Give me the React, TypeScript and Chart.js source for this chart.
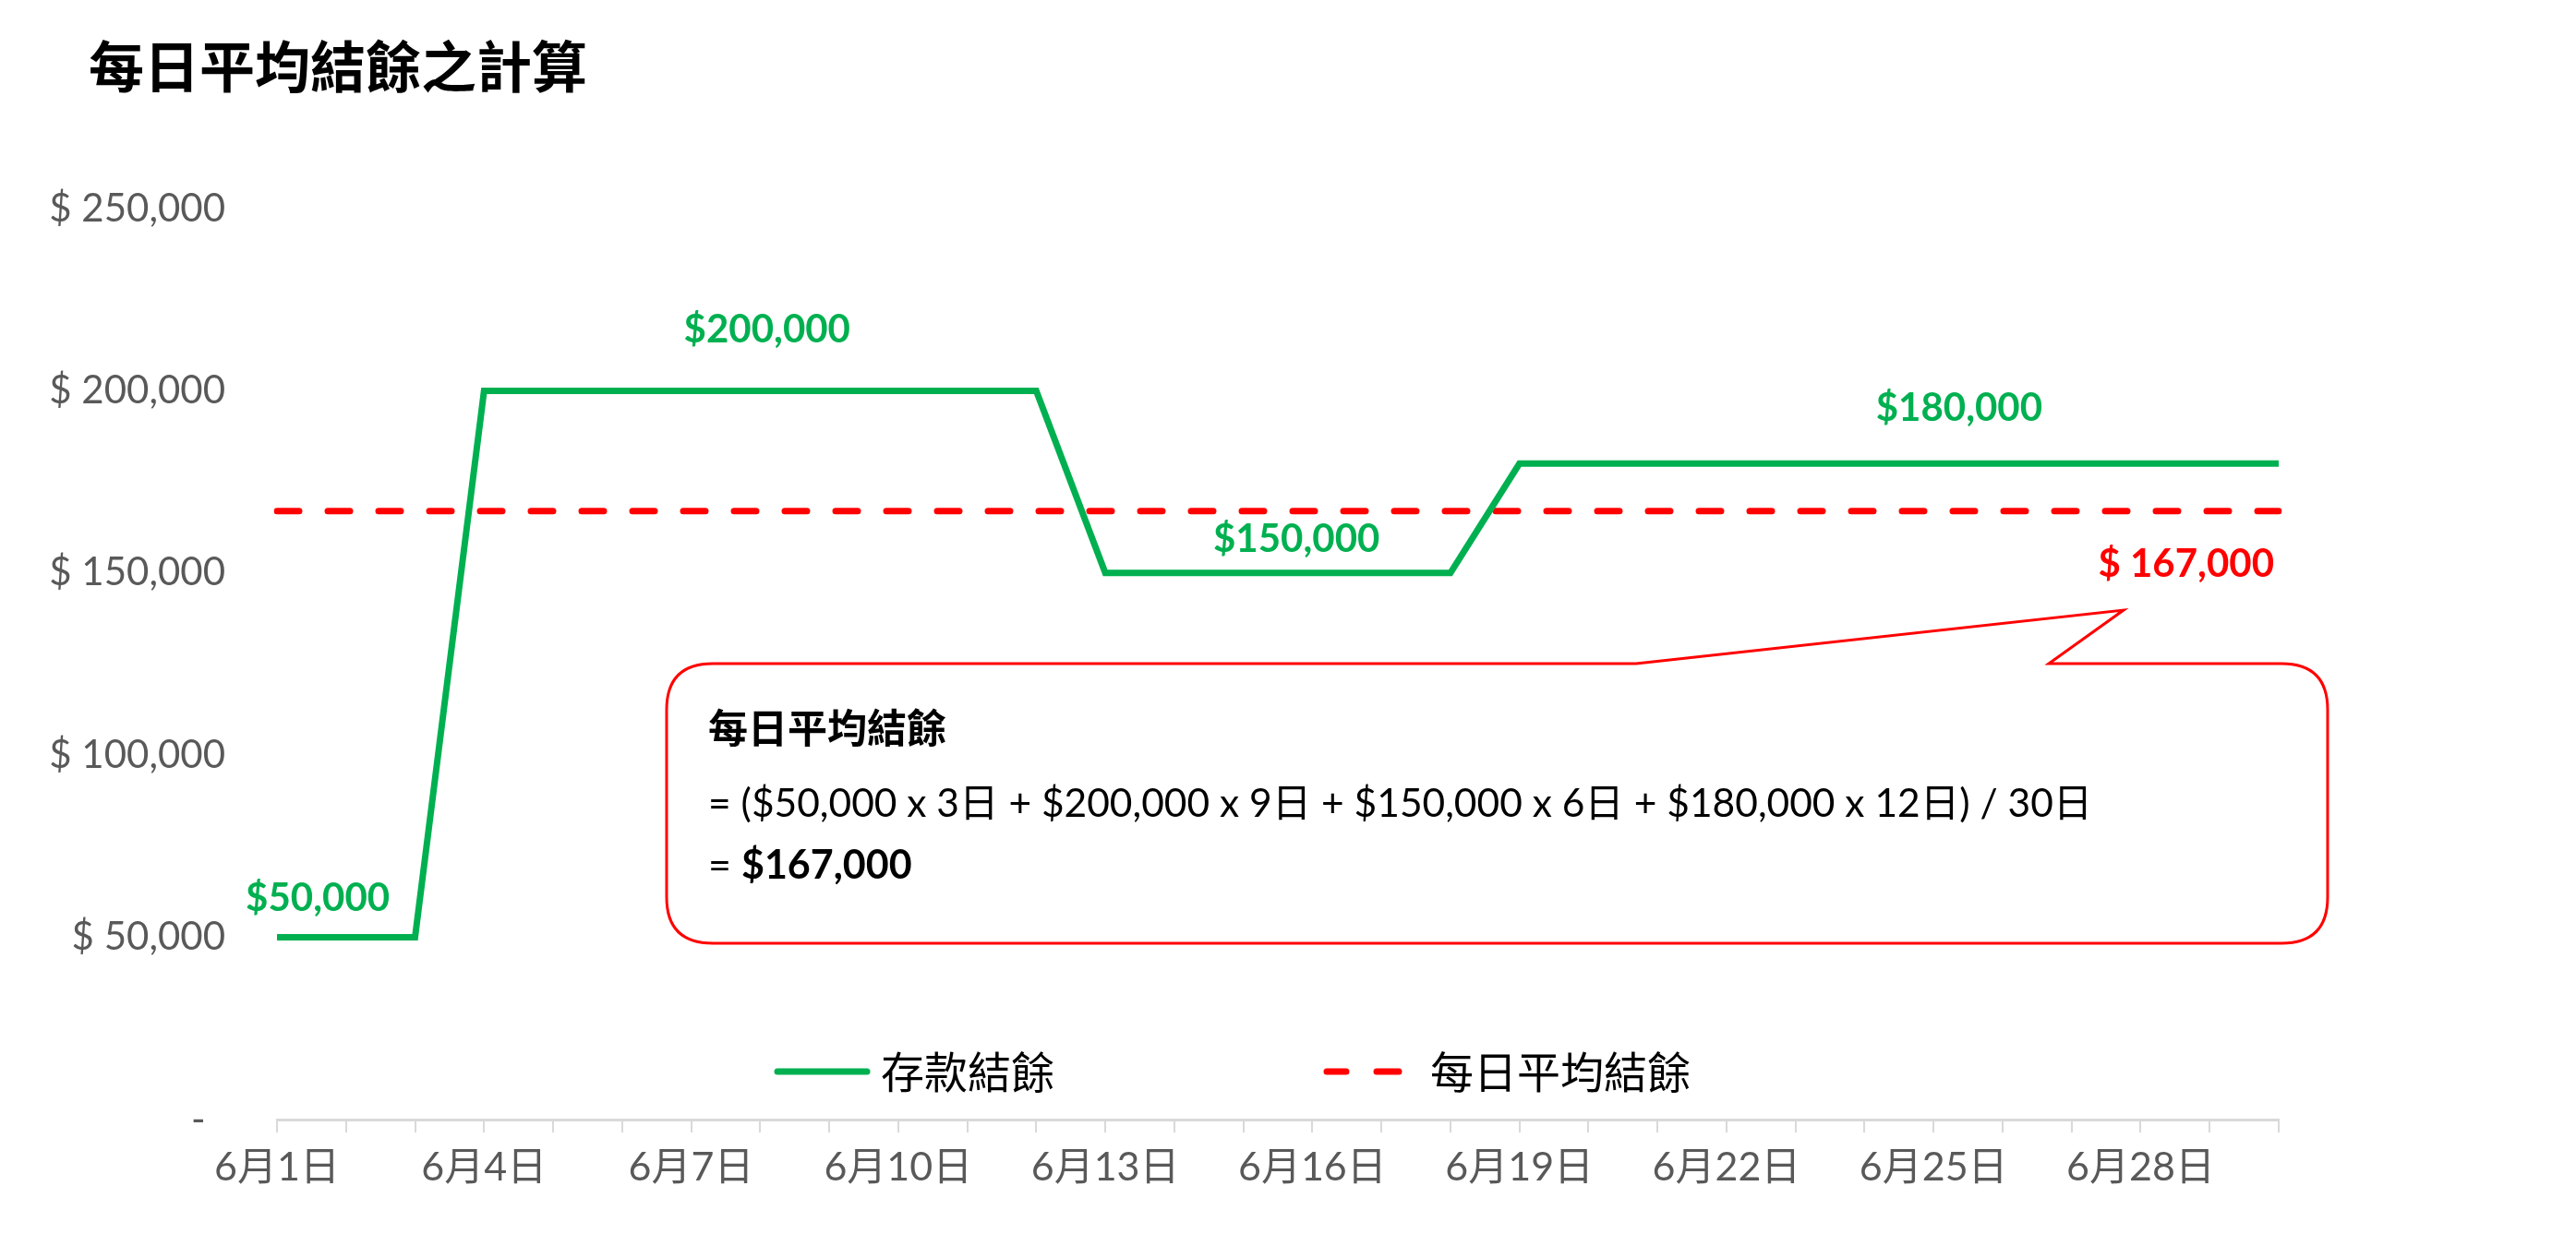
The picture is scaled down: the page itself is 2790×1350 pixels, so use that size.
import React, { useEffect, useRef } from 'react';
import { Chart, registerables } from 'chart.js';

Chart.register(...registerables);

const chartTitle = '每日平均結餘之計算';

const categories = [
  '6月1日', '6月2日', '6月3日', '6月4日', '6月5日', '6月6日', '6月7日', '6月8日', '6月9日', '6月10日',
  '6月11日', '6月12日', '6月13日', '6月14日', '6月15日', '6月16日', '6月17日', '6月18日', '6月19日', '6月20日',
  '6月21日', '6月22日', '6月23日', '6月24日', '6月25日', '6月26日', '6月27日', '6月28日', '6月29日', '6月30日',
];

const xTickLabels = ['6月1日', '6月4日', '6月7日', '6月10日', '6月13日', '6月16日', '6月19日', '6月22日', '6月25日', '6月28日'];

const balanceLabel = '存款結餘';
const balanceValues = [
  50000, 50000, 50000,
  200000, 200000, 200000, 200000, 200000, 200000, 200000, 200000, 200000,
  150000, 150000, 150000, 150000, 150000, 150000,
  180000, 180000, 180000, 180000, 180000, 180000, 180000, 180000, 180000, 180000, 180000, 180000,
];

const averageLabel = '每日平均結餘';
const averageValues = [
  167000, 167000, 167000, 167000, 167000, 167000, 167000, 167000, 167000, 167000,
  167000, 167000, 167000, 167000, 167000, 167000, 167000, 167000, 167000, 167000,
  167000, 167000, 167000, 167000, 167000, 167000, 167000, 167000, 167000, 167000,
];

const yTicks = [0, 50000, 100000, 150000, 200000, 250000];

const segmentLabels = ['$50,000', '$200,000', '$150,000', '$180,000'];
const averageText = '$ 167,000';

const calloutTitle = '每日平均結餘';
const calloutFormula = '= ($50,000 x 3日 + $200,000 x 9日 + $150,000 x 6日 + $180,000 x 12日) / 30日';
const calloutResultPrefix = '= ';
const calloutResult = '$167,000';

const GREEN = '#00B050';
const RED = '#FF0000';
const GRAY = '#595959';
const LATIN = 'Lato, "Noto Sans CJK TC", sans-serif';
const CJK = '"Noto Sans CJK TC", sans-serif';

function withCommas(v: number): string {
  const s = String(Math.round(v));
  return s.replace(/\B(?=(\d{3})+(?!\d))/g, ',');
}

const overlayPlugin = {
  id: 'overlay',
  afterDraw(chart: any) {
    const { ctx, scales } = chart;
    const x = scales.x;
    const y = scales.y;
    ctx.save();

    // Title
    ctx.fillStyle = '#000000';
    ctx.textAlign = 'left';
    ctx.textBaseline = 'middle';
    ctx.font = `bold 60px ${CJK}`;
    ctx.fillText(chartTitle, 96, 72);

    // Segment data labels
    const anchors = [
      { text: segmentLabels[0], idx: 0.59, value: balanceValues[0], dy: -42 },
      { text: segmentLabels[1], idx: 7.1, value: balanceValues[7], dy: -66 },
      { text: segmentLabels[2], idx: 14.77, value: balanceValues[14], dy: -36 },
      { text: segmentLabels[3], idx: 24.37, value: balanceValues[24], dy: -60 },
    ];
    ctx.font = `bold 42px ${LATIN}`;
    ctx.fillStyle = GREEN;
    ctx.textAlign = 'center';
    for (const a of anchors) {
      ctx.fillText(a.text, x.getPixelForValue(a.idx), y.getPixelForValue(a.value) + a.dy);
    }

    // Average label
    ctx.fillStyle = RED;
    ctx.textAlign = 'right';
    ctx.fillText(averageText, x.getPixelForValue(averageValues.length - 1) - 5, y.getPixelForValue(averageValues[averageValues.length - 1]) + 58);

    // Legend
    const ly = 1161;
    ctx.lineCap = 'round';
    ctx.lineWidth = 7;
    ctx.strokeStyle = GREEN;
    ctx.beginPath();
    ctx.moveTo(842, ly);
    ctx.lineTo(939, ly);
    ctx.stroke();
    ctx.strokeStyle = RED;
    ctx.beginPath();
    ctx.moveTo(1437, ly);
    ctx.lineTo(1458, ly);
    ctx.moveTo(1491, ly);
    ctx.lineTo(1515, ly);
    ctx.stroke();
    ctx.fillStyle = '#000000';
    ctx.textAlign = 'left';
    ctx.font = `47px ${CJK}`;
    ctx.fillText(balanceLabel, 954, ly);
    ctx.fillText(averageLabel, 1549, ly);

    // Callout box
    const L = 722, T = 719, R = 2521, B = 1022, r = 50;
    ctx.lineCap = 'butt';
    ctx.lineJoin = 'miter';
    ctx.beginPath();
    ctx.moveTo(L + r, T);
    ctx.lineTo(1772, T);
    ctx.lineTo(2300, 661);
    ctx.lineTo(2219, T);
    ctx.lineTo(R - r, T);
    ctx.quadraticCurveTo(R, T, R, T + r);
    ctx.lineTo(R, B - r);
    ctx.quadraticCurveTo(R, B, R - r, B);
    ctx.lineTo(L + r, B);
    ctx.quadraticCurveTo(L, B, L, B - r);
    ctx.lineTo(L, T + r);
    ctx.quadraticCurveTo(L, T, L + r, T);
    ctx.closePath();
    ctx.fillStyle = '#FFFFFF';
    ctx.fill();
    ctx.lineWidth = 3;
    ctx.strokeStyle = RED;
    ctx.stroke();

    // Callout text
    ctx.fillStyle = '#000000';
    ctx.textAlign = 'left';
    ctx.textBaseline = 'middle';
    ctx.font = `bold 43px ${CJK}`;
    ctx.fillText(calloutTitle, 767, 789);

    ctx.font = `43px ${LATIN}`;
    const w = ctx.measureText(calloutFormula).width;
    const size = Math.max(38, Math.min(48, 43 * 1500 / w));
    ctx.font = `${size.toFixed(1)}px ${LATIN}`;
    ctx.fillText(calloutFormula, 767, 871);

    ctx.font = `43px ${LATIN}`;
    ctx.fillText(calloutResultPrefix, 767, 938);
    const pw = ctx.measureText(calloutResultPrefix).width;
    ctx.font = `bold 43px ${LATIN}`;
    ctx.fillText(calloutResult, 767 + pw, 938);

    ctx.restore();
  },
};

export default function App() {
  const canvasRef = useRef<HTMLCanvasElement | null>(null);

  useEffect(() => {
    const canvas = canvasRef.current;
    if (!canvas) return;
    const chart = new Chart(canvas, {
      type: 'line',
      data: {
        labels: categories,
        datasets: [
          {
            label: balanceLabel,
            data: balanceValues,
            borderColor: GREEN,
            backgroundColor: GREEN,
            borderWidth: 7,
            pointRadius: 0,
            tension: 0,
            fill: false,
          },
          {
            label: averageLabel,
            data: averageValues,
            borderColor: RED,
            backgroundColor: RED,
            borderWidth: 7,
            borderDash: [24, 31],
            borderCapStyle: 'round',
            pointRadius: 0,
            tension: 0,
            fill: false,
          },
        ],
      },
      options: {
        responsive: false,
        animation: false,
        devicePixelRatio: 1,
        layout: { padding: { top: 226, right: 322, bottom: 0, left: 0 } },
        plugins: {
          legend: { display: false },
          title: { display: false },
          tooltip: { enabled: false },
        },
        scales: {
          x: {
            type: 'category',
            offset: false,
            grid: {
              display: true,
              drawOnChartArea: false,
              drawTicks: true,
              tickLength: 14,
              color: '#D9D9D9',
              lineWidth: 2,
              offset: false,
            },
            border: { display: true, color: '#D9D9D9', width: 3 },
            ticks: {
              autoSkip: false,
              maxRotation: 0,
              minRotation: 0,
              padding: 12,
              color: GRAY,
              font: { family: LATIN, size: 43 },
              callback: (_v: any, idx: number) => (xTickLabels.includes(categories[idx]) ? categories[idx] : ''),
            },
            afterFit: (s: any) => {
              s.height = 137;
            },
          },
          y: {
            min: 0,
            max: 250000,
            grid: { display: false, drawTicks: false, drawOnChartArea: false },
            border: { display: false },
            afterBuildTicks: (s: any) => {
              s.ticks = yTicks.map((v) => ({ value: v }));
            },
            ticks: {
              padding: 56,
              color: GRAY,
              font: { family: LATIN, size: 42 },
              callback: (v: any) => (Number(v) === 0 ? '-  ' : '$ ' + withCommas(Number(v))),
            },
            afterFit: (s: any) => {
              s.width = 300;
            },
          },
        },
      },
      plugins: [overlayPlugin],
    } as any);
    return () => chart.destroy();
  }, []);

  return (
    <div style={{ position: 'fixed', left: 0, top: 0, width: 2790, height: 1350, background: '#FFFFFF' }}>
      <canvas ref={canvasRef} width={2790} height={1350} style={{ width: 2790, height: 1350, display: 'block' }} />
    </div>
  );
}
